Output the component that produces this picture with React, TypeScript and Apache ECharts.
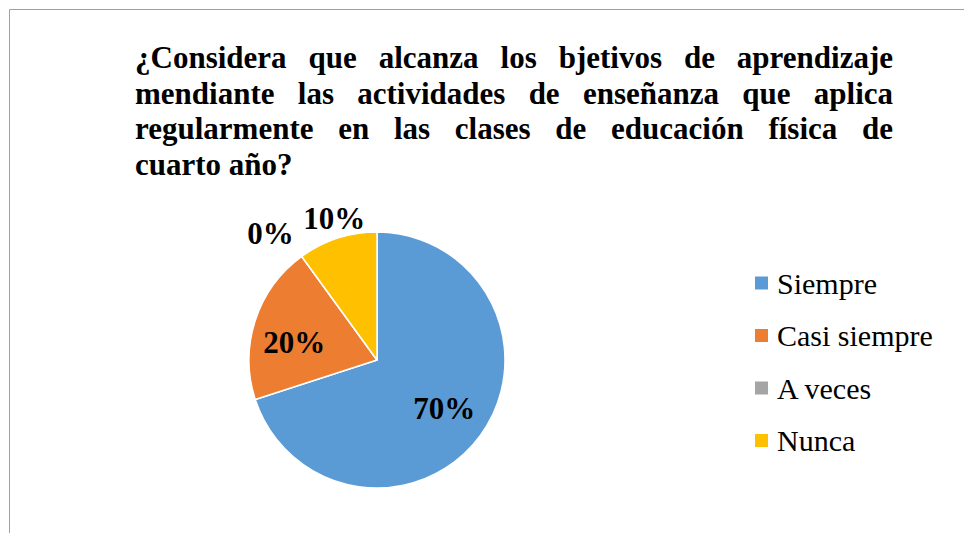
import React, { useEffect, useRef } from 'react';
import * as echarts from 'echarts';

const categories = ['Siempre', 'Casi siempre', 'A veces', 'Nunca'];
const percentages = [70, 20, 0, 10];
const sliceColors = ['#5B9BD5', '#ED7D31', '#A5A5A5', '#FFC000'];
const titleLines = [
  '¿Considera que alcanza los bjetivos de aprendizaje',
  'mendiante las actividades de enseñanza que aplica',
  'regularmente en las clases de educación física de',
  'cuarto año?',
];

const labelOffsets: Record<string, number[]> = {
  'Siempre': [13, 9],
  'Casi siempre': [-19, 3],
  'A veces': [-67, -72],
  'Nunca': [-22, -78],
};

export default function App() {
  const ref = useRef<HTMLDivElement>(null);
  useEffect(() => {
    const chart = echarts.init(ref.current!, null, { renderer: 'svg' });
    const fontFamily = 'Liberation Serif';
    const titleSize = 31;
    const canvas = document.createElement('canvas');
    const ctx = canvas.getContext('2d')!;
    ctx.font = `bold ${titleSize}px "Liberation Serif"`;
    const left = 135;
    const right = 893;
    const firstBaseline = 68;
    const lineStep = 35.7;
    const titleEls: any[] = [];
    titleLines.forEach((line, i) => {
      const words = line.split(' ');
      const widths = words.map((w) => ctx.measureText(w).width);
      const total = widths.reduce((a, b) => a + b, 0);
      const isLast = i === titleLines.length - 1;
      const gap = isLast || words.length < 2
        ? ctx.measureText(' ').width
        : (right - left - total) / (words.length - 1);
      let x = left;
      words.forEach((w, j) => {
        titleEls.push({
          type: 'text',
          x,
          y: firstBaseline + i * lineStep - 10.5,
          silent: true,
          style: {
            text: w,
            fontSize: titleSize,
            fontWeight: 'bold',
            fontFamily,
            fill: '#000',
            verticalAlign: 'middle',
            align: 'left',
          },
        });
        x += widths[j] + gap;
      });
    });

    chart.setOption({
      animation: false,
      color: sliceColors,
      legend: {
        orient: 'vertical',
        left: 755,
        top: 268,
        padding: 0,
        icon: 'rect',
        itemWidth: 13,
        itemHeight: 13,
        itemGap: 22.5,
        selectedMode: false,
        itemStyle: { borderWidth: 0 },
        data: categories,
        textStyle: {
          fontSize: 30,
          lineHeight: 30,
          fontFamily,
          color: '#000',
          padding: [0, 0, 0, 4],
        },
      },
      graphic: [
        {
          type: 'line',
          silent: true,
          shape: { x1: 9.5, y1: 9.5, x2: 964, y2: 9.5 },
          style: { stroke: '#a0a0a0', lineWidth: 1 },
        },
        {
          type: 'line',
          silent: true,
          shape: { x1: 9.5, y1: 9.5, x2: 9.5, y2: 533 },
          style: { stroke: '#a0a0a0', lineWidth: 1 },
        },
        ...titleEls,
      ],
      series: [
        {
          type: 'pie',
          center: [377, 360],
          radius: 128,
          startAngle: 90,
          clockwise: true,
          silent: true,
          avoidLabelOverlap: false,
          itemStyle: { borderColor: '#fff', borderWidth: 1.5 },
          labelLine: { show: false },
          label: {
            show: true,
            position: 'inside',
            formatter: (p: any) => `${p.value}%`,
            fontSize: 31,
            fontWeight: 'bold',
            fontFamily,
            color: '#000',
          },
          data: categories.map((name, i) => ({
            name,
            value: percentages[i],
            label: { offset: labelOffsets[name] },
          })),
        },
      ],
    });
    return () => chart.dispose();
  }, []);
  return (
    <div
      ref={ref}
      style={{ position: 'absolute', left: 0, top: 0, width: 964, height: 533 }}
    />
  );
}
